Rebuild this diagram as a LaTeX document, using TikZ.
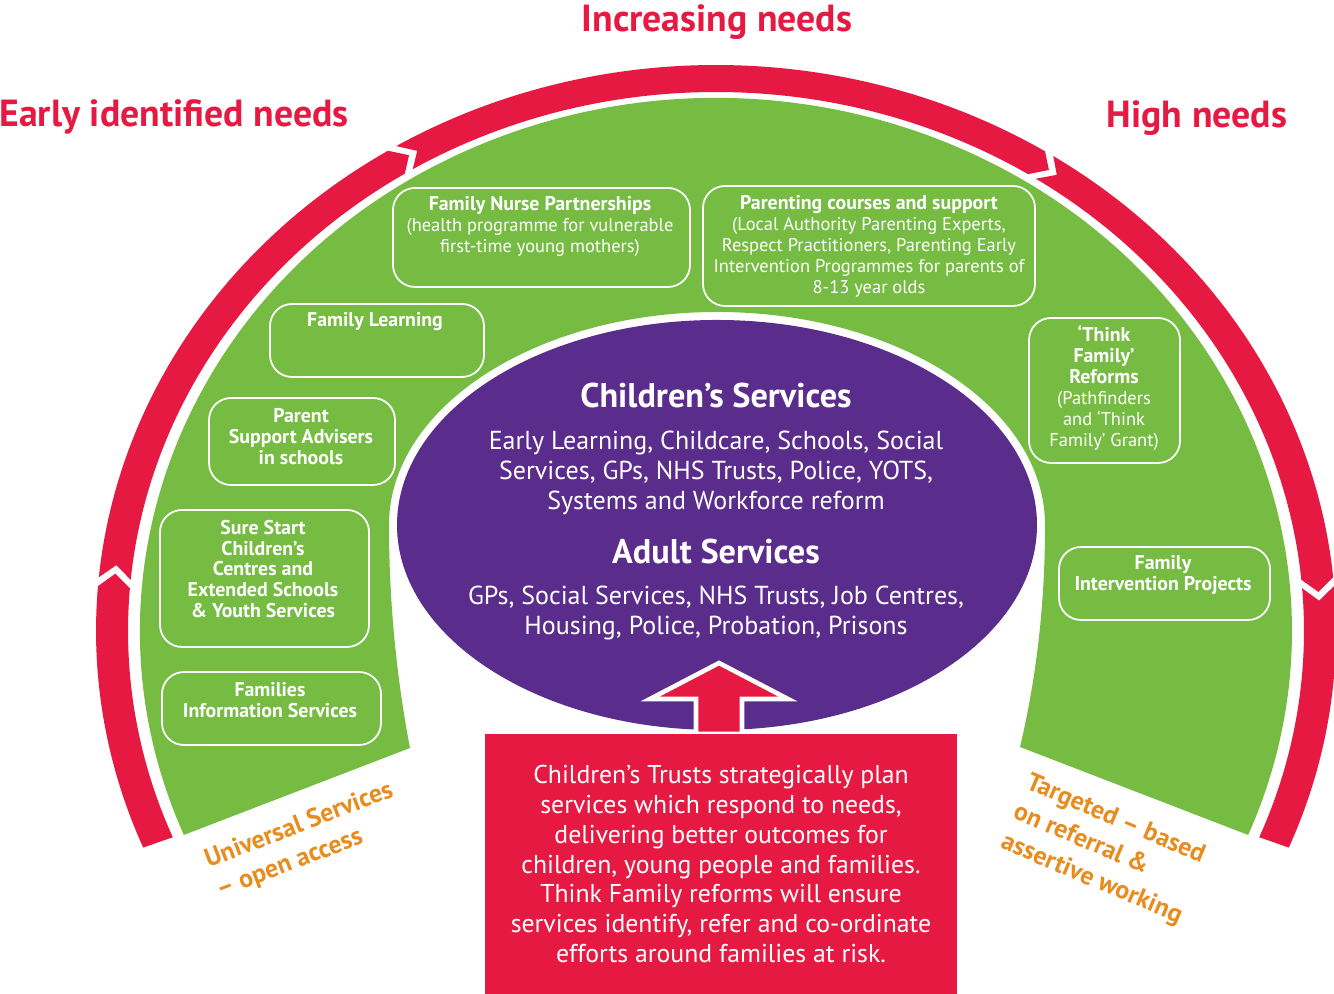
\documentclass[tikz,border=0pt]{standalone}
\usepackage{fontspec}
\setmainfont{PT Sans}
\usetikzlibrary{positioning}
\usetikzlibrary{shapes.geometric}
\definecolor{needred}{RGB}{230,25,66}
\definecolor{fillgreen}{RGB}{118,188,67}
\definecolor{servpurple}{RGB}{90,45,140}
\definecolor{accessorange}{RGB}{232,140,30}
\newcommand{\bt}[1]{{\bfseries\fontsize{5.65}{5.95}\selectfont #1}}
\tikzset{
  head/.style={text=needred,font=\bfseries\fontsize{10.75}{12}\selectfont,inner sep=0pt},
  gbox/.style={draw=white,line width=0.5pt,rounded corners=0.22cm,inner sep=0pt},
  gtext/.style={text=white,align=center,font=\fontsize{5.25}{5.95}\selectfont,inner sep=0pt},
  ptitle/.style={text=white,font=\bfseries\fontsize{9.75}{11}\selectfont,inner sep=0pt},
  pbody/.style={text=white,align=center,font=\fontsize{7.4}{8.5}\selectfont,inner sep=0pt},
  access/.style={text=accessorange,align=left,font=\bfseries\fontsize{7.35}{9.2}\selectfont,inner sep=0pt}
}
\begin{document}
\begin{tikzpicture}
\useasboundingbox (0,0) rectangle (13.34,9.94);
\coordinate (O) at (7.16,3.63);

\fill[fillgreen] ([shift={(O)}]202.5:5.76 and 5.33) arc[start angle=202.5,end angle=-22.5,x radius=5.76,y radius=5.33]
  -- (10.20,2.47) .. controls (10.42,3.4) and (10.45,4.2) .. (10.45,4.69)
  arc[start angle=0,end angle=180,x radius=3.28,y radius=2.13]
  .. controls (3.89,4.2) and (3.92,3.4) .. (4.10,2.46) -- cycle;

\begin{scope}[shift={(O)}]
  \fill[needred] (202.5:6.20 and 5.66) arc[start angle=202.5,end angle=175.45,x radius=6.20,y radius=5.66]
    -- (174.05:6.04 and 5.525) -- (175.45:5.88 and 5.39)
    arc[start angle=175.45,end angle=202.5,x radius=5.88,y radius=5.39] -- cycle;
  \fill[needred] (174.55:6.20 and 5.66) arc[start angle=174.55,end angle=121.95,x radius=6.20,y radius=5.66]
    -- (120.55:6.04 and 5.525) -- (121.95:5.88 and 5.39)
    arc[start angle=121.95,end angle=174.55,x radius=5.88,y radius=5.39] -- (173.15:6.04 and 5.525) -- cycle;
  \fill[needred] (121.05:6.20 and 5.66) arc[start angle=121.05,end angle=57.95,x radius=6.20,y radius=5.66]
    -- (56.55:6.04 and 5.525) -- (57.95:5.88 and 5.39)
    arc[start angle=57.95,end angle=121.05,x radius=5.88,y radius=5.39] -- (119.65:6.04 and 5.525) -- cycle;
  \fill[needred] (57.05:6.20 and 5.66) arc[start angle=57.05,end angle=5.45,x radius=6.20,y radius=5.66]
    -- (4.05:6.04 and 5.525) -- (5.45:5.88 and 5.39)
    arc[start angle=5.45,end angle=57.05,x radius=5.88,y radius=5.39] -- (55.65:6.04 and 5.525) -- cycle;
  \fill[needred] (4.55:6.20 and 5.66) arc[start angle=4.55,end angle=-22.5,x radius=6.20,y radius=5.66]
    -- (-22.5:5.88 and 5.39)
    arc[start angle=-22.5,end angle=4.55,x radius=5.88,y radius=5.39] -- (3.15:6.04 and 5.525) -- cycle;
\end{scope}

\node[head] (IN) at (7.17,9.72) {Increasing needs};
\node[head] (EN) at (1.74,8.77) {Early identified needs};
\node[head] (HN) at (11.97,8.76) {High needs};

\node[fill=servpurple,ellipse,minimum width=6.40cm,minimum height=4.10cm,inner sep=0pt] (SV) at (7.17,4.69) {};
\node[ptitle] (CS) at (7.16,5.98) {Children's Services};
\node[pbody] (CSt) at (7.16,5.21) {Early Learning, Childcare, Schools, Social\\Services, GPs, NHS Trusts, Police, YOTS,\\Systems and Workforce reform};
\node[ptitle] (AS) at (7.16,4.42) {Adult Services};
\node[pbody] (ASt) at (7.16,3.81) {GPs, Social Services, NHS Trusts, Job Centres,\\Housing, Police, Probation, Prisons};

\node[gbox,minimum width=2.97cm,minimum height=0.99cm] (FNP) at (5.415,7.565) {};
\node[gtext] (FNPt) at (5.40,7.675) {\bt{Family Nurse Partnerships}\\(health programme for vulnerable\\first-time young mothers)};
\node[gbox,minimum width=3.32cm,minimum height=1.20cm] (PC) at (8.69,7.48) {};
\node[gtext] (PCt) at (8.69,7.475) {\bt{Parenting courses and support}\\(Local Authority Parenting Experts,\\Respect Practitioners, Parenting Early\\Intervention Programmes for parents of\\8-13 year olds};
\node[gbox,minimum width=2.14cm,minimum height=0.73cm] (FL) at (3.77,6.535) {};
\node[gtext] (FLt) at (3.75,6.72) {\bt{Family Learning}};
\node[gbox,minimum width=1.86cm,minimum height=0.87cm] (PSA) at (3.02,5.525) {};
\node[gtext] (PSAt) at (3.01,5.57) {\bt{Parent}\\\bt{Support Advisers}\\\bt{in schools}};
\node[gbox,minimum width=2.09cm,minimum height=1.37cm] (SS) at (2.645,4.155) {};
\node[gtext] (SSt) at (2.63,4.25) {\bt{Sure Start}\\\bt{Children's}\\\bt{Centres and}\\\bt{Extended Schools}\\\bt{\& Youth Services}};
\node[gbox,minimum width=2.19cm,minimum height=0.73cm] (FIS) at (2.715,2.855) {};
\node[gtext] (FISt) at (2.70,2.94) {\bt{Families}\\\bt{Information Services}};
\node[gbox,minimum width=1.51cm,minimum height=1.45cm] (TF) at (11.045,6.035) {};
\node[gtext] (TFt) at (11.04,6.06) {\bt{`Think}\\\bt{Family'}\\\bt{Reforms}\\(Pathfinders\\and `Think\\Family' Grant)};
\node[gbox,minimum width=2.11cm,minimum height=0.73cm] (FIP) at (11.645,4.105) {};
\node[gtext] (FIPt) at (11.63,4.19) {\bt{Family}\\\bt{Intervention Projects}};

\fill[needred,draw=white,line width=1.3pt] (6.96,2.60) -- (6.96,2.95) -- (6.50,2.95) -- (7.19,3.31) -- (7.88,2.95) -- (7.42,2.95) -- (7.42,2.60) -- cycle;
\node[fill=needred,minimum width=4.72cm,minimum height=2.60cm,inner sep=0pt,text=white,align=center,font=\fontsize{7.33}{8.5}\selectfont] (T) at (7.21,1.30) {Children's Trusts strategically plan\\services which respond to needs,\\delivering better outcomes for\\children, young people and families.\\Think Family reforms will ensure\\services identify, refer and co-ordinate\\efforts around families at risk.};

\node[access,rotate=21] (US) at (3.05,1.53) {Universal Services\\-- open access};
\node[access,rotate=-23] (TG) at (11.04,1.44) {Targeted -- based\\on referral \&\\assertive working};
\end{tikzpicture}
\end{document}
